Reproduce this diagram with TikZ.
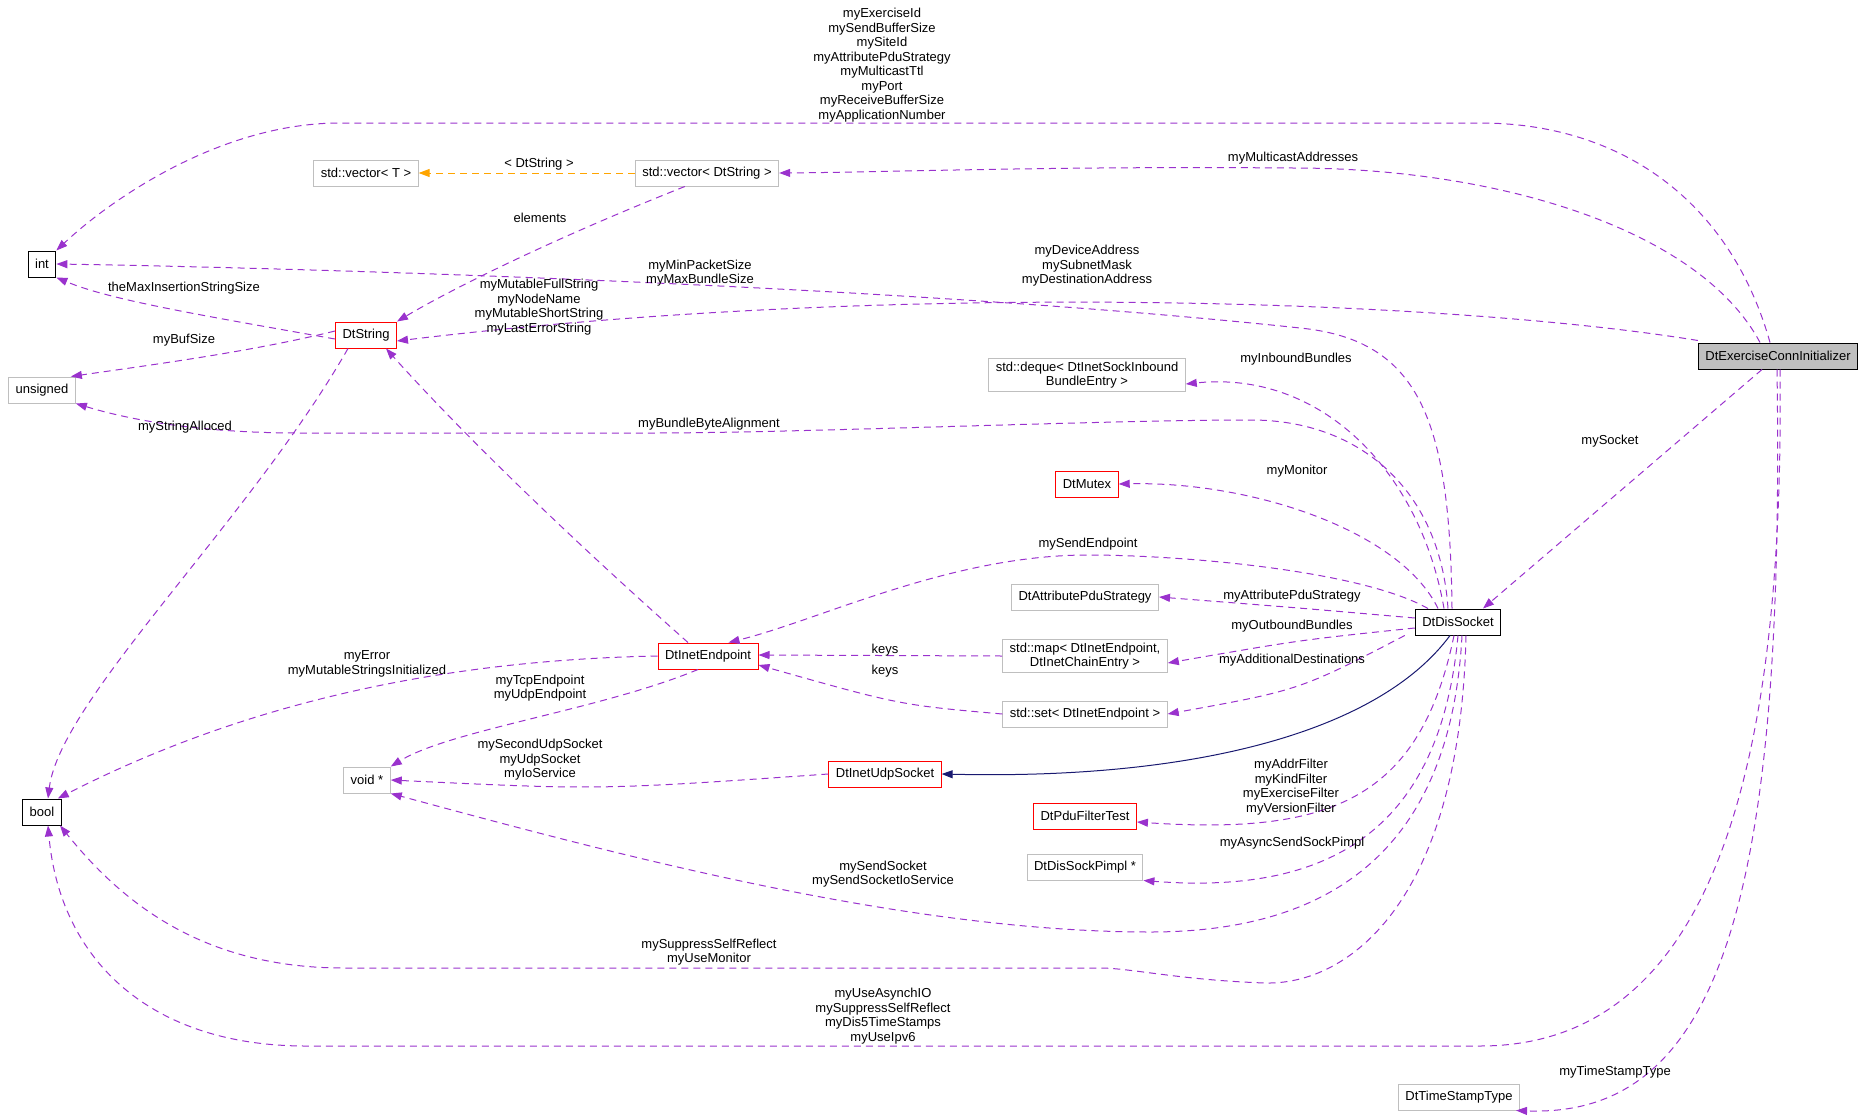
\documentclass[tikz,border=0pt]{standalone}
\usepackage{fontspec}
\setmainfont{Liberation Sans}
\usetikzlibrary{arrows.meta}
\definecolor{edgep}{HTML}{9A32CD}
\definecolor{edgeo}{HTML}{FFA500}
\definecolor{edgeb}{HTML}{191970}
\definecolor{boxgray}{HTML}{BFBFBF}

\tikzset{
  cls/.style={draw=black, line width=1pt, minimum height=26pt, inner xsep=7pt, align=center, fill=white},
  ext/.style={cls, draw=boxgray},
  doc/.style={cls, draw=red},
  dep/.style={draw=edgep, line width=1pt, dash pattern=on 7pt off 5pt, -{Triangle[length=11pt,width=8pt]}},
  tpl/.style={draw=edgeo, line width=1pt, dash pattern=on 7pt off 5pt, -{Triangle[length=11pt,width=8pt,fill=edgeo]}},
  inh/.style={draw=edgeb, line width=1pt, -{Triangle[length=11pt,width=8pt,fill=edgeb]}},
  lbl/.style={align=center, inner sep=0pt}
}

\begin{document}
\begin{tikzpicture}
            [x=1pt, y=-1pt, font=\fontsize{13}{14.5}\selectfont]
            \useasboundingbox (0,0) rectangle (1869,1119);
            % nodes
            \node[cls, fill=boxgray] (exc) at (1778,356) {DtExerciseConnInitializer};
            \node[cls] (int) at (42,264) {int};
            \node[cls] (bool) at (42,812) {bool};
            \node[ext] (uns) at (42,390) {unsigned};
            \node[ext] (vect) at (366,173) {std::vector< T >};
            \node[ext] (vecs) at (707,173) {std::vector< DtString >};
            \node[doc] (dts) at (366,335) {DtString};
            \node[ext] (deq) at (1087,375) {std::deque< DtInetSockInbound\\BundleEntry >};
            \node[doc] (mtx) at (1087,484) {DtMutex};
            \node[ext] (aps) at (1085,597) {DtAttributePduStrategy};
            \node[cls] (dds) at (1458,622) {DtDisSocket};
            \node[doc] (iep) at (708,656) {DtInetEndpoint};
            \node[ext] (map) at (1085,656) {std::map< DtInetEndpoint,\\DtInetChainEntry >};
            \node[ext] (set) at (1085,714) {std::set< DtInetEndpoint >};
            \node[ext] (vptr) at (367,780) {void *};
            \node[doc] (ius) at (885,774) {DtInetUdpSocket};
            \node[doc] (pdu) at (1085,816) {DtPduFilterTest};
            \node[ext] (pim) at (1085,867) {DtDisSockPimpl *};
            \node[ext] (tst) at (1459,1097) {DtTimeStampType};

            % DtExerciseConnInitializer
            \draw[dep] ([xshift=-8]exc.north) .. controls (1730,200) and (1620,123) .. (1480,123)
                -- (340,123) .. controls (220,123) and (110,200) .. (int.north east);
            \node[lbl] at (882,65) {myExerciseId\\mySendBufferSize\\mySiteId\\myAttributePduStrategy\\myMulticastTtl\\myPort\\myReceiveBufferSize\\myApplicationNumber};
            \draw[dep] ([xshift=-18]exc.north) .. controls (1700,230) and (1500,168) .. (1293,168)
                .. controls (1050,166) and (900,172) .. (vecs.east);
            \node[lbl] at (1293,158) {myMulticastAddresses};
            \draw[dep] ([yshift=2]exc.north west) .. controls (1450,300) and (900,280) .. ([yshift=-6]dts.east);
            \node[lbl] at (1087,266) {myDeviceAddress\\mySubnetMask\\myDestinationAddress};
            \draw[dep] ([xshift=-16]exc.south) -- ([xshift=25]dds.north);
            \node[lbl] at (1610,441) {mySocket};
            \draw[dep] ([xshift=2]exc.south) .. controls (1785,800) and (1700,1046) .. (1480,1046)
                -- (306,1046) .. controls (150,1046) and (60,960) .. ([xshift=6]bool.south);
            \node[lbl] at (883,1016) {myUseAsynchIO\\mySuppressSelfReflect\\myDis5TimeStamps\\myUseIpv6};
            \draw[dep] ([xshift=-1]exc.south) .. controls (1785,900) and (1720,1118) .. ([xshift=-4]tst.south east);
            \node[lbl] at (1615,1072) {myTimeStampType};

            % DtDisSocket
            \draw[dep] ([xshift=-6]dds.north) .. controls (1450,420) and (1420,340) .. (1300,328)
                .. controls (900,285) and (300,268) .. (int.east);
            \node[lbl] at (700,273) {myMinPacketSize\\myMaxBundleSize};
            \draw[dep] ([xshift=-10]dds.north) .. controls (1440,490) and (1360,420) .. (1251,420)
                .. controls (1100,420) and (800,433) .. (650,433) -- (300,433)
                .. controls (200,433) and (130,420) .. (uns.south east);
            \node[lbl] at (709,424) {myBundleByteAlignment};
            \draw[dep] ([xshift=-14]dds.north) .. controls (1420,470) and (1320,370) .. ([yshift=-9]deq.east);
            \node[lbl] at (1296,359) {myInboundBundles};
            \draw[dep] ([xshift=-20]dds.north) .. controls (1400,530) and (1250,481) .. (mtx.east);
            \node[lbl] at (1297,471) {myMonitor};
            \draw[dep] ([xshift=-30]dds.north) .. controls (1360,570) and (1180,555) .. (1088,555)
                .. controls (950,555) and (820,620) .. ([xshift=-30]iep.north east);
            \node[lbl] at (1088,544) {mySendEndpoint};
            \draw[dep] ([yshift=4]dds.west) .. controls (1300,608) .. (aps.east);
            \node[lbl] at (1292,596) {myAttributePduStrategy};
            \draw[dep] ([yshift=-6]dds.west) .. controls (1300,640) .. ([yshift=-7]map.east);
            \node[lbl] at (1292,626) {myOutboundBundles};
            \draw[dep] ([xshift=-10]dds.south west) .. controls (1300,690) .. (set.east);
            \node[lbl] at (1292,660) {myAdditionalDestinations};
            \draw[inh] ([xshift=-8]dds.south) .. controls (1380,730) and (1200,780) .. (ius.east);
            \draw[dep] ([xshift=-4]dds.south) .. controls (1420,800) and (1330,835) .. ([yshift=-6]pdu.east);
            \node[lbl] at (1291,787) {myAddrFilter\\myKindFilter\\myExerciseFilter\\myVersionFilter};
            \draw[dep] ([xshift=0]dds.south) .. controls (1440,830) and (1330,895) .. (pim.south east);
            \node[lbl] at (1292,843) {myAsyncSendSockPimpl};
            \draw[dep] ([xshift=4]dds.south) .. controls (1450,860) and (1320,932) .. (1150,932)
                .. controls (900,932) and (600,850) .. (vptr.south east);
            \node[lbl] at (883,874) {mySendSocket\\mySendSocketIoService};
            \draw[dep] ([xshift=8]dds.south) .. controls (1460,900) and (1350,985) .. (1265,983)
                .. controls (1180,980) and (1130,968) .. (1100,968) -- (344,968)
                .. controls (200,968) and (120,900) .. ([xshift=18]bool.south);
            \node[lbl] at (709,952) {mySuppressSelfReflect\\myUseMonitor};

            % DtString
            \draw[dep] ([yshift=-4]dts.west) .. controls (200,315) and (110,300) .. (int.south east);
            \node[lbl] at (184,288) {theMaxInsertionStringSize};
            \draw[dep] ([yshift=4]dts.west) .. controls (250,352) and (150,365) .. ([xshift=-5]uns.north east);
            \node[lbl] at (184,340) {myBufSize};
            \draw[dep] ([xshift=-18]dts.south) .. controls (250,520) and (60,700) .. ([xshift=6]bool.north);
            \node[lbl] at (185,427) {myStringAlloced};

            % std::vector< DtString >
            \draw[dep] ([xshift=50]vecs.south west) .. controls (550,240) and (450,290) .. (dts.north east);
            \node[lbl] at (540,218) {elements};
            \draw[tpl] (vecs.west) -- (vect.east);
            \node[lbl] at (539,164) {< DtString >};

            % DtInetEndpoint
            \draw[dep] ([xshift=-20]iep.north) .. controls (550,520) and (450,420) .. ([xshift=20]dts.south);
            \node[lbl] at (539,307) {myMutableFullString\\myNodeName\\myMutableShortString\\myLastErrorString};
            \draw[dep] (iep.west) .. controls (450,660) and (250,700) .. ([xshift=-4]bool.north east);
            \node[lbl] at (367,664) {myError\\myMutableStringsInitialized};
            \draw[dep] ([xshift=-10]iep.south) .. controls (600,710) and (450,730) .. (vptr.north east);
            \node[lbl] at (540,688) {myTcpEndpoint\\myUdpEndpoint};
            \draw[dep] (map.west) -- ([yshift=1]iep.east);
            \node[lbl] at (885,650) {keys};
            \draw[dep] (set.west) .. controls (900,705) .. ([yshift=-9]iep.east);
            \node[lbl] at (885,671) {keys};

            % DtInetUdpSocket
            \draw[dep] (ius.west) .. controls (600,790) .. (vptr.east);
            \node[lbl] at (540,760) {mySecondUdpSocket\\myUdpSocket\\myIoService};
\end{tikzpicture}
\end{document}
